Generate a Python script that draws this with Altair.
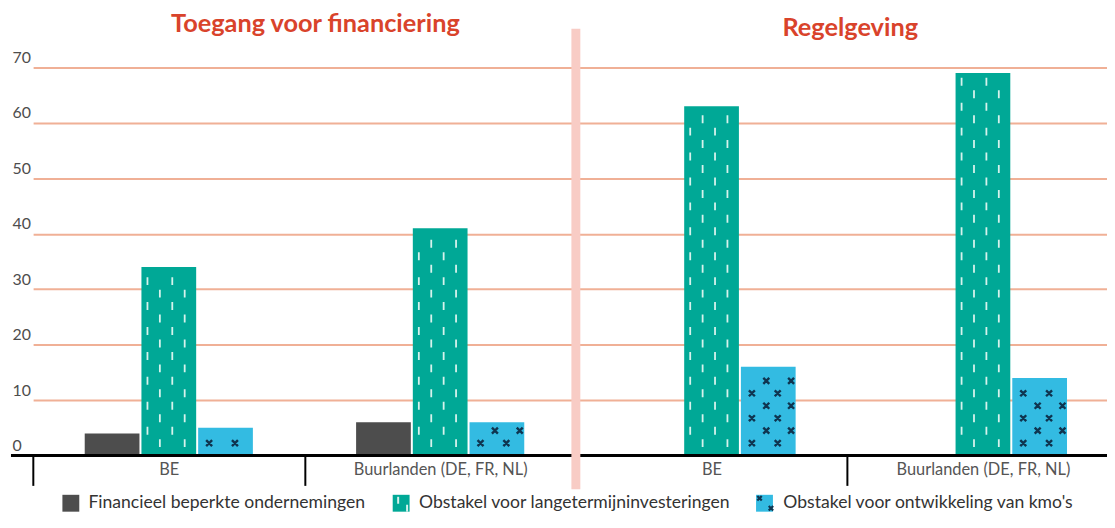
import altair as alt
import pandas as pd

# ---- data ----
panels = ["Toegang voor financiering", "Toegang voor financiering", "Regelgeving", "Regelgeving"]
countries = ["BE", "Buurlanden (DE, FR, NL)", "BE", "Buurlanden (DE, FR, NL)"]
series = [
    "Financieel beperkte ondernemingen",
    "Obstakel voor langetermijninvesteringen",
    "Obstakel voor ontwikkeling van kmo's",
]
fin_constrained = [4, 6, 0, 0]
long_term = [34, 41, 63, 69]
sme_dev = [5, 6, 16, 14]
y_ticks = [0, 10, 20, 30, 40, 50, 60, 70]

colors = ["#4d4d4d", "#00a896", "#33bbe2"]
FONT = "Lato"
W, H = 1104, 391

cats = [f"{p}|{c}" for p, c in zip(panels, countries)]
rows = []
for s, vals in zip(series, [fin_constrained, long_term, sme_dev]):
    for cat, v in zip(cats, vals):
        rows.append({"cat": cat, "series": s, "value": v})
df = pd.DataFrame(rows)

xscale = alt.Scale(domain=cats, range=[22.3, 1115.7], paddingInner=0, paddingOuter=0)
xoff_scale = alt.Scale(domain=series, paddingInner=0.035, paddingOuter=0.91)
yscale = alt.Scale(domain=[0, 70], nice=False, zero=True)

x_axis = alt.Axis(
    title=None, domain=False, ticks=True, tickBand="extent", tickSize=30,
    tickWidth=2, tickColor="black", grid=False,
    labelExpr="split(datum.label, '|')[1]", labelFont=FONT, labelFontSize=16.5,
    labelColor="#555555", labelPadding=-16, labelBaseline="middle", labelAngle=0,
)
y_axis = alt.Axis(
    title=None, domain=False, ticks=False, tickSize=0, values=y_ticks,
    grid=True, gridColor="#f0b096", gridWidth=2,
    labelAlign="left", labelPadding=-1, labelBaseline="alphabetic", labelOffset=-5,
    labelFont=FONT, labelFontSize=16, labelColor="#4d4d4d",
)


def X(**kw):
    return alt.X("cat:N", scale=xscale, axis=x_axis, **kw)


def Y(field):
    return alt.Y(field, scale=yscale, axis=y_axis)


bars = alt.Chart(df).mark_bar().encode(
    x=X(),
    xOffset=alt.XOffset("series:N", scale=xoff_scale),
    y=Y("value:Q"),
    color=alt.Color("series:N", scale=alt.Scale(domain=series, range=colors), legend=None),
)


def pattern(series_name, step, half, paths, color, width):
    # paths: (odd-row path, even-row path) in pixel units around the bar centre (size=4 -> scale 1)
    base = alt.Chart(df[df.series == series_name]).transform_calculate(
        k=f"sequence(1, floor((datum.value - {half}) / {step}) + 1)"
    ).transform_flatten(["k"]).transform_calculate(py=f"datum.k * {step}")
    out = []
    for par, path in ((1, paths[0]), (0, paths[1])):
        out.append(
            base.transform_filter(f"datum.k % 2 == {par}").mark_point(
                shape=path, size=4, filled=False, stroke=color,
                strokeWidth=width, opacity=1,
            ).encode(
                x=X(),
                xOffset=alt.XOffset("series:N", scale=xoff_scale),
                y=Y("py:Q"),
            )
        )
    return out


def dashes(xs, h=4):
    return "".join(f"M{x},{-h}L{x},{h}" for x in xs)


def crosses(xs, h=3):
    return "".join(f"M{x-h},{-h}L{x+h},{h}M{x-h},{h}L{x+h},{-h}" for x in xs)


teal_layers = pattern(series[1], 2.247, 0.75,
                      (dashes([-9, 16]), dashes([-21.5, 3.5])), "#d6f2ec", 1.8)
blue_layers = pattern(series[2], 2.247, 0.6,
                      (crosses([-16.5, 9.5]), crosses([-2, 23])), "#0f3550", 2.4)

baseline = alt.Chart(pd.DataFrame({"v": [0]})).mark_rule(color="black", strokeWidth=3).encode(
    y=Y("v:Q"), x=alt.value(0), x2=alt.value(W)
)

divider = alt.Chart(pd.DataFrame({"cat": [cats[2]]})).mark_rule(
    color="#f8ccc5", strokeWidth=9
).encode(
    x=X(bandPosition=0),
    y=alt.value(-39), y2=alt.value(425),
)

title_style = dict(font=FONT, fontSize=25.5, fontWeight="bold", color="#d9432b",
                   baseline="alphabetic", align="center")
title1 = alt.Chart(pd.DataFrame({"cat": [cats[1]], "t": [panels[0]]})).mark_text(
    dx=11, **title_style
).encode(x=X(bandPosition=0), y=alt.value(-36), text="t:N")
title2 = alt.Chart(pd.DataFrame({"cat": [cats[3]], "t": [panels[2]]})).mark_text(
    dx=3, **title_style
).encode(x=X(bandPosition=0), y=alt.value(-32), text="t:N")

# ---- legend (kept inside the 528px page) ----
LEG_Y = 439      # square centre, relative to plot top
LEG_BASE = 444   # text baseline
legend_layers = []
sq_x = [60.3, 393, 759]
tx_x = [78, 411, 778]
for i, (s, c) in enumerate(zip(series, colors)):
    d = pd.DataFrame({"s": [s]})
    legend_layers.append(
        alt.Chart(d).mark_square(size=17 * 17, color=c, opacity=1).encode(
            x=alt.value(sq_x[i]), y=alt.value(LEG_Y)
        )
    )
    legend_layers.append(
        alt.Chart(d).mark_text(align="left", baseline="alphabetic", font=FONT,
                               fontSize=17.7, color="#333333").encode(
            x=alt.value(tx_x[i]), y=alt.value(LEG_BASE), text="s:N"
        )
    )
leg_d = pd.DataFrame({"s": [series[1]]})
for px, py in ((390, LEG_Y - 3), (399, LEG_Y + 5)):
    legend_layers.append(
        alt.Chart(leg_d).mark_point(shape="M0,-1L0,1", size=49, filled=False,
                                    stroke="#d6f2ec", strokeWidth=2, opacity=1).encode(
            x=alt.value(px), y=alt.value(py)
        )
    )
leg_d2 = pd.DataFrame({"s": [series[2]]})
for px, py in ((754, LEG_Y - 5), (765.5, LEG_Y + 5)):
    legend_layers.append(
        alt.Chart(leg_d2).mark_point(shape="M-1,-1L1,1M-1,1L1,-1", size=20, filled=False,
                                     stroke="#0f3550", strokeWidth=2.2, opacity=1).encode(
            x=alt.value(px), y=alt.value(py)
        )
    )

chart = alt.layer(
    bars, *teal_layers, *blue_layers, baseline, divider, title1, title2, *legend_layers
).properties(
    width=W, height=H,
    autosize=alt.AutoSizeParams(type="none"),
    padding={"left": 3, "top": 58, "right": 0, "bottom": 58},
).configure_view(stroke=None)

chart.save("out.html", embed_options={"renderer": "svg", "actions": False})
